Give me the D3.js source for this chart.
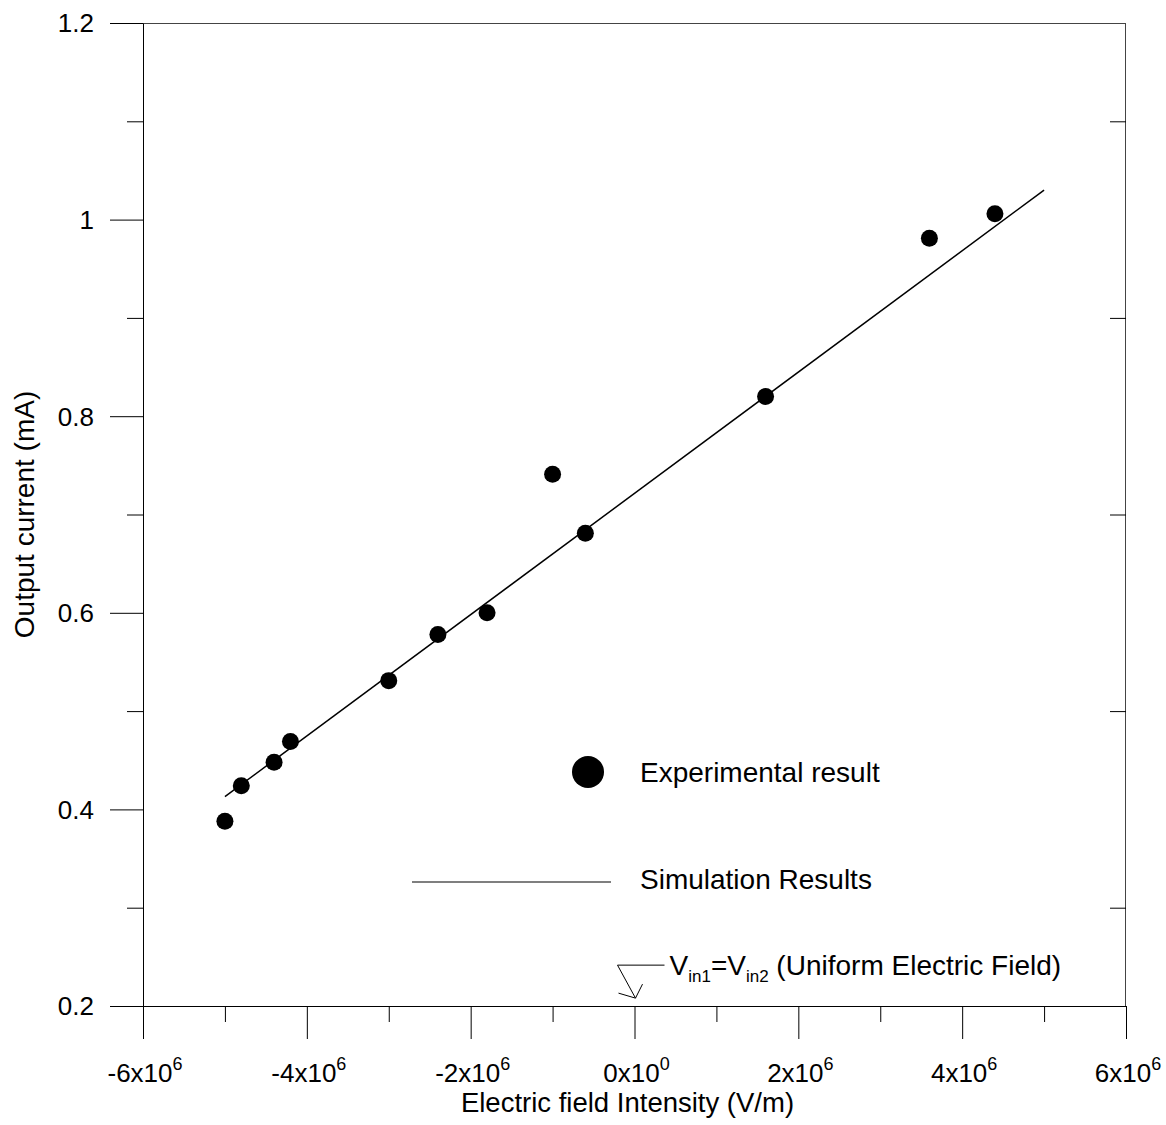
<!DOCTYPE html>
<html>
<head>
<meta charset="utf-8">
<script src="https://cdn.jsdelivr.net/npm/d3@7"></script>
<style>
  html, body { margin: 0; padding: 0; background: #fff; }
  svg { display: block; font-family: "Liberation Sans", Arial, sans-serif; }
</style>
</head>
<body>
<svg id="chart" width="1166" height="1125"></svg>
<script>
// ---- data ----
const fieldX   = [-5.0e6, -4.8e6, -4.4e6, -4.2e6, -3.0e6, -2.4e6, -1.8e6, -1.0e6, -0.6e6, 1.6e6, 3.6e6, 4.4e6];
const current  = [0.388, 0.424, 0.448, 0.469, 0.531, 0.578, 0.600, 0.741, 0.681, 0.820, 0.981, 1.006];
const simX     = [-5.0e6, 5.0e6];
const simY     = [0.413, 1.030];
const xMajor   = [-6e6, -4e6, -2e6, 0, 2e6, 4e6, 6e6];
const xMinor   = [-5e6, -3e6, -1e6, 1e6, 3e6, 5e6];
const xMant    = ["-6", "-4", "-2", "0", "2", "4", "6"];
const xExp     = ["6", "6", "6", "0", "6", "6", "6"];
const yMajor   = [0.2, 0.4, 0.6, 0.8, 1.0, 1.2];
const yMinor   = [0.3, 0.5, 0.7, 0.9, 1.1];
const yLabels  = ["0.2", "0.4", "0.6", "0.8", "1", "1.2"];
const legendLabels = ["Experimental result", "Simulation Results"];

// ---- layout ----
const L = 143, R = 1126, T = 23, B = 1006;
const svg = d3.select("#chart");
const x = d3.scaleLinear().domain([-6e6, 6e6]).range([L, R]);
const y = d3.scaleLinear().domain([0.2, 1.2]).range([B, T]);

// frame
const frame = svg.append("g").attr("stroke-width", 1).attr("fill", "none");
frame.append("line").attr("x1", L).attr("x2", R).attr("y1", T + 0.5).attr("y2", T + 0.5).attr("stroke", "#444");
frame.append("line").attr("x1", R - 0.5).attr("x2", R - 0.5).attr("y1", T).attr("y2", B).attr("stroke", "#444");

// bottom axis
const gx = svg.append("g").attr("transform", `translate(0,${B})`);
gx.call(d3.axisBottom(x).tickValues(xMajor).tickSize(33).tickSizeOuter(0).tickFormat(""));
gx.call(g => g.select(".domain").attr("d", `M${L},0.5H${R}`));
const gxm = svg.append("g").attr("transform", `translate(0,${B})`);
gxm.call(d3.axisBottom(x).tickValues(xMinor).tickSize(16).tickFormat(""));
gxm.select(".domain").remove();

// left axis
const gy = svg.append("g").attr("transform", `translate(${L},0)`);
gy.call(d3.axisLeft(y).tickValues(yMajor).tickSize(33).tickSizeOuter(0).tickFormat(""));
const gym = svg.append("g").attr("transform", `translate(${L},0)`);
gym.call(d3.axisLeft(y).tickValues(yMinor).tickSize(16).tickFormat(""));
gym.select(".domain").remove();

// right axis minor ticks (inward)
const gyr = svg.append("g").attr("transform", `translate(${R},0)`);
gyr.call(d3.axisLeft(y).tickValues(yMinor).tickSize(16).tickFormat(""));
gyr.select(".domain").remove();

svg.selectAll(".tick line").attr("stroke", "#000");

// x tick labels with superscripts
const xl = svg.append("g").attr("font-size", 26).attr("fill", "#000");
xMajor.forEach((v, i) => {
  const t = xl.append("text").attr("x", x(v) + 2).attr("y", 1082).attr("text-anchor", "middle");
  t.append("tspan").text(xMant[i] + "x10");
  t.append("tspan").attr("font-size", 18).attr("dy", -12).text(xExp[i]);
});

// y tick labels
svg.append("g").attr("font-size", 26).selectAll("text").data(yMajor).join("text")
  .attr("x", 94).attr("y", d => y(d)).attr("dy", "0.36em").attr("text-anchor", "end")
  .text((d, i) => yLabels[i]);

// axis titles
svg.append("text").attr("x", (L + R) / 2 - 7).attr("y", 1112).attr("text-anchor", "middle")
  .attr("font-size", 27.5).text("Electric field Intensity (V/m)");
svg.append("text").attr("transform", `translate(34,${(T + B) / 2}) rotate(-90)`)
  .attr("text-anchor", "middle").attr("font-size", 28).text("Output current (mA)");

// simulation line
const line = d3.line().x(d => x(d[0])).y(d => y(d[1]));
svg.append("path").datum(d3.zip(simX, simY)).attr("d", line)
  .attr("fill", "none").attr("stroke", "#000").attr("stroke-width", 1.5);

// experimental points
svg.append("g").selectAll("circle").data(d3.zip(fieldX, current)).join("circle")
  .attr("cx", d => x(d[0])).attr("cy", d => y(d[1])).attr("r", 8.5).attr("fill", "#000");

// legend
const lg = svg.append("g").attr("font-size", 28);
lg.append("circle").attr("cx", 588).attr("cy", 772).attr("r", 16).attr("fill", "#000");
lg.append("text").attr("x", 640).attr("y", 782).text(legendLabels[0]);
lg.append("line").attr("x1", 412).attr("x2", 611).attr("y1", 882).attr("y2", 882)
  .attr("stroke", "#000").attr("stroke-width", 1.2);
lg.append("text").attr("x", 640).attr("y", 889).text(legendLabels[1]);

// annotation: uniform field at x = 0
const tipX = x(0) + 1, tipY = y(0.208);
svg.append("path")
  .attr("d", `M${tipX + 29},${tipY - 33} H${tipX - 18} L${tipX},${tipY} M${tipX - 17},${tipY - 5} L${tipX},${tipY} L${tipX + 7},${tipY - 14}`)
  .attr("fill", "none").attr("stroke", "#000").attr("stroke-width", 1);
const at = svg.append("text").attr("x", tipX + 34).attr("y", 975).attr("font-size", 28);
at.append("tspan").text("V");
at.append("tspan").attr("font-size", 17).attr("dy", 7).text("in1");
at.append("tspan").attr("dy", -7).text("=V");
at.append("tspan").attr("font-size", 17).attr("dy", 7).text("in2");
at.append("tspan").attr("dy", -7).text(" (Uniform Electric Field)");
</script>
</body>
</html>
